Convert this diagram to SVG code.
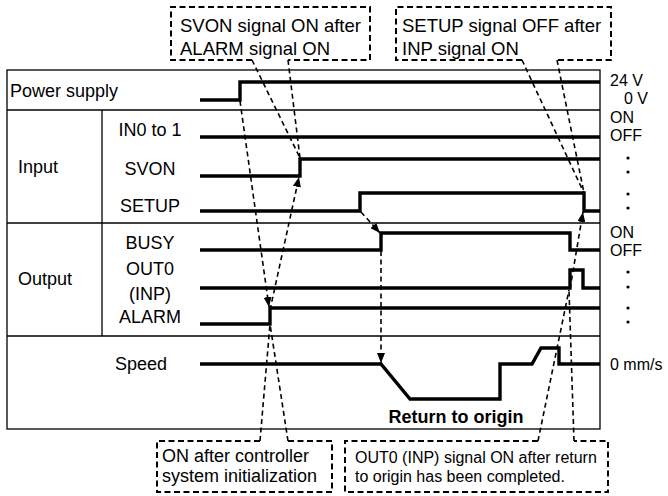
<svg xmlns="http://www.w3.org/2000/svg" width="668" height="496" viewBox="0 0 668 496">
<defs>
<style>
text{font-family:"Liberation Sans",Arial,Helvetica,sans-serif;fill:#000}
.lb{font-size:18px}
.rt{font-size:16px}
.co{font-size:18.5px}
.sm{font-size:16px}
.frame{fill:none;stroke:#000;stroke-width:1.3}
.sig{fill:none;stroke:#000;stroke-width:3.4;stroke-linejoin:miter}
.box{fill:none;stroke:#000;stroke-width:2;stroke-dasharray:6 3.5}
.ld{fill:none;stroke:#000;stroke-width:1.6;stroke-dasharray:5 3.5}
.ar{fill:none;stroke:#000;stroke-width:1.6;stroke-dasharray:5 3.5;marker-end:url(#ah)}
</style>
<marker id="ah" viewBox="0 0 10 8" refX="10" refY="4" markerWidth="10" markerHeight="8" orient="auto" markerUnits="userSpaceOnUse"><path d="M0,0 L10,4 L0,8 z" fill="#000"/></marker>
</defs>
<rect width="668" height="496" fill="#fff"/>
<g id="frame">
<rect class="frame" x="7" y="70" width="593" height="359"/>
<line class="frame" x1="7" y1="110" x2="600" y2="110"/>
<line class="frame" x1="7" y1="223" x2="600" y2="223"/>
<line class="frame" x1="7" y1="336" x2="600" y2="336"/>
<line class="frame" x1="102" y1="110" x2="102" y2="336"/>
</g>
<g id="labels">
<text class="lb" x="10" y="97">Power supply</text>
<text class="lb" x="18" y="173">Input</text>
<text class="lb" x="18" y="285">Output</text>
<text class="lb" x="150" y="136" text-anchor="middle">IN0 to 1</text>
<text class="lb" x="150" y="175" text-anchor="middle">SVON</text>
<text class="lb" x="150" y="212" text-anchor="middle">SETUP</text>
<text class="lb" x="150" y="249" text-anchor="middle">BUSY</text>
<text class="lb" x="150" y="275" text-anchor="middle">OUT0</text>
<text class="lb" x="150" y="300" text-anchor="middle">(INP)</text>
<text class="lb" x="150" y="323" text-anchor="middle">ALARM</text>
<text class="lb" x="115" y="370">Speed</text>
<text class="lb" x="456" y="423" text-anchor="middle" font-weight="bold">Return to origin</text>
</g>
<g id="right-labels">
<text class="rt" x="610" y="86">24 V</text>
<text class="rt" x="648" y="104" text-anchor="end">0 V</text>
<text class="rt" x="610" y="123">ON</text>
<text class="rt" x="610" y="141">OFF</text>
<text class="rt" x="610" y="238">ON</text>
<text class="rt" x="610" y="256">OFF</text>
<text class="rt" x="610" y="370" font-size="17px">0 mm/s</text>
<g fill="#000">
<circle cx="628" cy="158" r="1.6"/><circle cx="628" cy="172" r="1.6"/><circle cx="628" cy="194" r="1.6"/><circle cx="628" cy="208" r="1.6"/>
<circle cx="628" cy="272" r="1.6"/><circle cx="628" cy="287" r="1.6"/><circle cx="628" cy="308" r="1.6"/><circle cx="628" cy="322" r="1.6"/>
</g>
</g>
<g id="signals">
<path id="power" class="sig" d="M200,100 H240 V82 H600"/>
<path id="in0" class="sig" d="M200,137 H600"/>
<path id="svon" class="sig" d="M200,176 H300 V159 H600"/>
<path id="setup" class="sig" d="M200,211 H360 V193 H584 V211 H600"/>
<path id="busy" class="sig" d="M200,250 H381 V233 H570 V250 H600"/>
<path id="out0" class="sig" d="M200,288 H570 V270 H583 V288 H600"/>
<path id="alarm" class="sig" d="M200,324 H270 V308 H600"/>
<path id="speed" class="sig" d="M200,364 H381 L410,399 H500 V364 H532 L541,348 H559 V364 H600"/>
</g>
<g id="callout-svon">
<path class="box" d="M252,60 H171 V7 H370 V60 H288"/>
<text class="co" x="180" y="32">SVON signal ON after</text>
<text class="co" x="180" y="55">ALARM signal ON</text>
</g>
<g id="callout-setup">
<path class="box" d="M522,60 H396 V7 H611 V60 H557"/>
<text class="co" x="402" y="32">SETUP signal OFF after</text>
<text class="co" x="402" y="55">INP signal ON</text>
</g>
<g id="callout-alarm">
<path class="box" d="M260,441 H157 V492 H332 V441 H288"/>
<text class="lb" x="162" y="462">ON after controller</text>
<text class="lb" x="162" y="482">system initialization</text>
</g>
<g id="callout-inp">
<path class="box" d="M538,441 H345 V492 H608 V441 H574"/>
<text class="sm" x="355" y="463">OUT0 (INP) signal ON after return</text>
<text class="sm" x="355" y="482">to origin has been completed.</text>
</g>
<g id="connectors">
<line class="ld" x1="252" y1="60" x2="300" y2="158"/>
<line class="ld" x1="288" y1="60" x2="300" y2="158"/>
<line class="ld" x1="522" y1="60" x2="584" y2="193"/>
<line class="ld" x1="557" y1="60" x2="584" y2="193"/>
<line class="ld" x1="260" y1="441" x2="270" y2="324"/>
<line class="ld" x1="288" y1="441" x2="270" y2="324"/>
<line class="ld" x1="538" y1="441" x2="569" y2="290"/>
<line class="ld" x1="574" y1="441" x2="569" y2="290"/>
<line class="ar" x1="240" y1="101" x2="269" y2="307"/>
<line class="ar" x1="270" y1="310" x2="299" y2="177"/>
<line class="ar" x1="361" y1="212" x2="380" y2="233"/>
<line class="ar" x1="381" y1="251" x2="381" y2="363"/>
<line class="ar" x1="570" y1="289" x2="583" y2="212"/>
</g>
</svg>
